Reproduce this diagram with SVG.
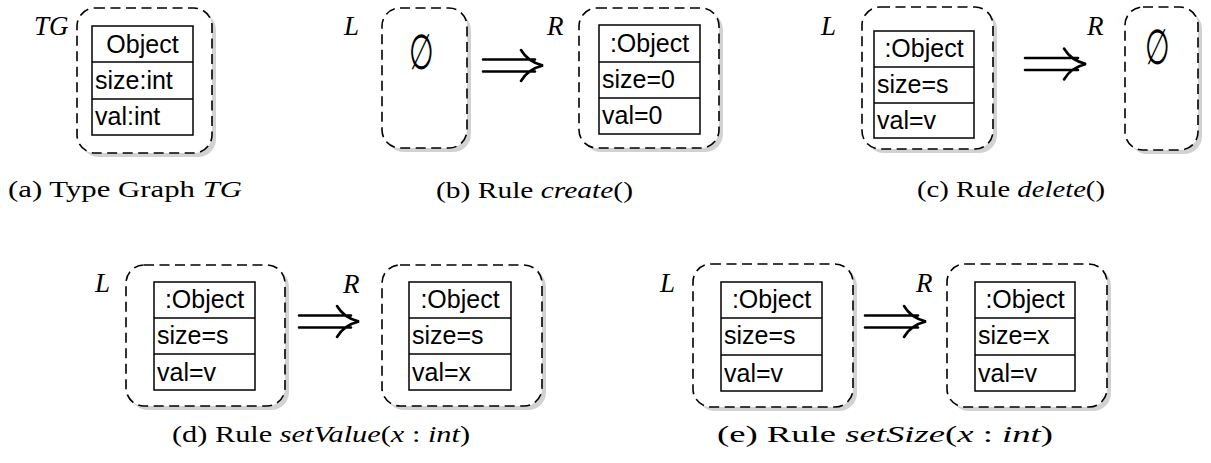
<svg xmlns="http://www.w3.org/2000/svg" width="1211" height="463" viewBox="0 0 1211 463">
<style>
  .frame { fill: #ffffff; stroke: #000; stroke-width: 1.6; stroke-dasharray: 10 5.5; }
  .shadow { fill: #d2d2d2; }
  .cls { fill: #ffffff; stroke: #000; stroke-width: 1.5; }
  .sep { stroke: #000; stroke-width: 1.5; }
  .attr { font-family: "Liberation Sans", Arial, sans-serif; font-size: 25px; fill: #000; }
  .ttl { font-family: "Liberation Sans", Arial, sans-serif; font-size: 25px; fill: #000; text-anchor: middle; }
  .lbl { font-family: "Liberation Serif", "Times New Roman", serif; font-style: italic; font-size: 27px; fill: #000; }
  .cap { font-family: "Liberation Serif", "Times New Roman", serif; font-size: 23px; fill: #000; }
  .it { font-style: italic; }
  .empty { font-family: "DejaVu Serif", "Liberation Serif", serif; font-size: 38px; fill: #000; text-anchor: middle; }
  .arr { fill: none; stroke: #000; stroke-width: 2.6; stroke-linecap: round; }
</style>

<!-- (a) Type graph -->
<g id="a-TG">
  <rect class="shadow" x="81" y="12" width="135" height="145" rx="18"/>
  <rect class="frame" x="77" y="8" width="135" height="145" rx="18"/>
  <text class="lbl" x="34" y="35" font-size="28">TG</text>
  <g id="a-Object">
    <rect class="cls" x="92" y="26" width="101" height="109"/>
    <line class="sep" x1="92" y1="62" x2="193" y2="62"/>
    <line class="sep" x1="92" y1="99" x2="193" y2="99"/>
    <text class="ttl" x="142.5" y="53">Object</text>
    <text class="attr" x="95" y="89">size:int</text>
    <text class="attr" x="95" y="125">val:int</text>
  </g>
</g>
<text class="cap" x="8" y="197" textLength="234" lengthAdjust="spacingAndGlyphs">(a) Type Graph <tspan class="it">TG</tspan></text>

<!-- (b) Rule create() -->
<g id="b-L">
  <rect class="shadow" x="386" y="12" width="85" height="140" rx="18"/>
  <rect class="frame" x="382" y="8" width="85" height="140" rx="18"/>
  <text class="lbl" x="344" y="35">L</text>
  <text class="empty" x="0" y="0" transform="translate(421 69) scale(0.75 1.3)">∅</text>
</g>
<g id="b-R">
  <rect class="shadow" x="583" y="12" width="140" height="140" rx="18"/>
  <rect class="frame" x="579" y="8" width="140" height="140" rx="18"/>
  <text class="lbl" x="547" y="35">R</text>
  <g id="b-Object">
    <rect class="cls" x="599" y="25" width="101" height="109"/>
    <line class="sep" x1="599" y1="62" x2="700" y2="62"/>
    <line class="sep" x1="599" y1="98" x2="700" y2="98"/>
    <text class="ttl" x="649.5" y="52">:Object</text>
    <text class="attr" x="602" y="88">size=0</text>
    <text class="attr" x="602" y="124">val=0</text>
  </g>
</g>
<text class="cap" x="436" y="198" textLength="197" lengthAdjust="spacingAndGlyphs">(b) Rule <tspan class="it">create</tspan>()</text>

<!-- (c) Rule delete() -->
<g id="c-L">
  <rect class="shadow" x="866" y="11" width="131" height="142" rx="18"/>
  <rect class="frame" x="862" y="7" width="131" height="142" rx="18"/>
  <text class="lbl" x="821" y="35">L</text>
  <g id="c-Object">
    <rect class="cls" x="874" y="31" width="100" height="107"/>
    <line class="sep" x1="874" y1="67" x2="974" y2="67"/>
    <line class="sep" x1="874" y1="103" x2="974" y2="103"/>
    <text class="ttl" x="924" y="57">:Object</text>
    <text class="attr" x="877" y="93">size=s</text>
    <text class="attr" x="877" y="129">val=v</text>
  </g>
</g>
<g id="c-R">
  <rect class="shadow" x="1129" y="11" width="73" height="143" rx="18"/>
  <rect class="frame" x="1125" y="7" width="73" height="143" rx="18"/>
  <text class="lbl" x="1087" y="35">R</text>
  <text class="empty" x="0" y="0" transform="translate(1157 64) scale(0.75 1.3)">∅</text>
</g>
<text class="cap" x="917" y="197" textLength="188" lengthAdjust="spacingAndGlyphs">(c) Rule <tspan class="it">delete</tspan>()</text>

<!-- (d) Rule setValue(x:int) -->
<g id="d-L">
  <rect class="shadow" x="130" y="269" width="159" height="141" rx="18"/>
  <rect class="frame" x="126" y="265" width="159" height="141" rx="18"/>
  <text class="lbl" x="95" y="292">L</text>
  <g id="d-L-Object">
    <rect class="cls" x="154" y="282" width="101" height="108"/>
    <line class="sep" x1="154" y1="318" x2="255" y2="318"/>
    <line class="sep" x1="154" y1="354" x2="255" y2="354"/>
    <text class="ttl" x="204.5" y="308">:Object</text>
    <text class="attr" x="157" y="344">size=s</text>
    <text class="attr" x="157" y="381">val=v</text>
  </g>
</g>
<g id="d-R">
  <rect class="shadow" x="386" y="269" width="160" height="141" rx="18"/>
  <rect class="frame" x="382" y="265" width="160" height="141" rx="18"/>
  <text class="lbl" x="343" y="293">R</text>
  <g id="d-R-Object">
    <rect class="cls" x="409" y="282" width="102" height="108"/>
    <line class="sep" x1="409" y1="318" x2="511" y2="318"/>
    <line class="sep" x1="409" y1="354" x2="511" y2="354"/>
    <text class="ttl" x="460" y="308">:Object</text>
    <text class="attr" x="412" y="344">size=s</text>
    <text class="attr" x="412" y="381">val=x</text>
  </g>
</g>
<text class="cap" x="172" y="442" textLength="298" lengthAdjust="spacingAndGlyphs">(d) Rule <tspan class="it">setValue</tspan>(<tspan class="it">x</tspan> : <tspan class="it">int</tspan>)</text>

<!-- (e) Rule setSize(x:int) -->
<g id="e-L">
  <rect class="shadow" x="697" y="268" width="160" height="143" rx="18"/>
  <rect class="frame" x="693" y="264" width="160" height="143" rx="18"/>
  <text class="lbl" x="660" y="292">L</text>
  <g id="e-L-Object">
    <rect class="cls" x="721" y="282" width="101" height="109"/>
    <line class="sep" x1="721" y1="318" x2="822" y2="318"/>
    <line class="sep" x1="721" y1="355" x2="822" y2="355"/>
    <text class="ttl" x="771.5" y="308">:Object</text>
    <text class="attr" x="724" y="344">size=s</text>
    <text class="attr" x="724" y="382">val=v</text>
  </g>
</g>
<g id="e-R">
  <rect class="shadow" x="951" y="268" width="160" height="143" rx="18"/>
  <rect class="frame" x="947" y="264" width="160" height="143" rx="18"/>
  <text class="lbl" x="916" y="292">R</text>
  <g id="e-R-Object">
    <rect class="cls" x="975" y="282" width="100" height="109"/>
    <line class="sep" x1="975" y1="318" x2="1075" y2="318"/>
    <line class="sep" x1="975" y1="355" x2="1075" y2="355"/>
    <text class="ttl" x="1025" y="308">:Object</text>
    <text class="attr" x="978" y="344">size=x</text>
    <text class="attr" x="978" y="382">val=v</text>
  </g>
</g>
<text class="cap" x="717" y="442" textLength="336" lengthAdjust="spacingAndGlyphs">(e) Rule <tspan class="it">setSize</tspan>(<tspan class="it">x</tspan> : <tspan class="it">int</tspan>)</text>

<!-- connectors: rule arrows (double arrows) -->
<g id="connectors">
  <path class="arr" d="M483 59.5 H535 M483 71.5 H535 M521 50 Q528 62 543 65.5 Q528 69 521 81"/>
  <path class="arr" d="M1025 58 H1078 M1025 70 H1078 M1064 48.5 Q1071 60.5 1086 64 Q1071 67.5 1064 79.5"/>
  <path class="arr" d="M299 315.5 H351 M299 327.5 H351 M337 306 Q344 318 359 321.5 Q344 325 337 337"/>
  <path class="arr" d="M865 315.5 H918 M865 327.5 H918 M904 306 Q911 318 926 321.5 Q911 325 904 337"/>
</g>
</svg>
